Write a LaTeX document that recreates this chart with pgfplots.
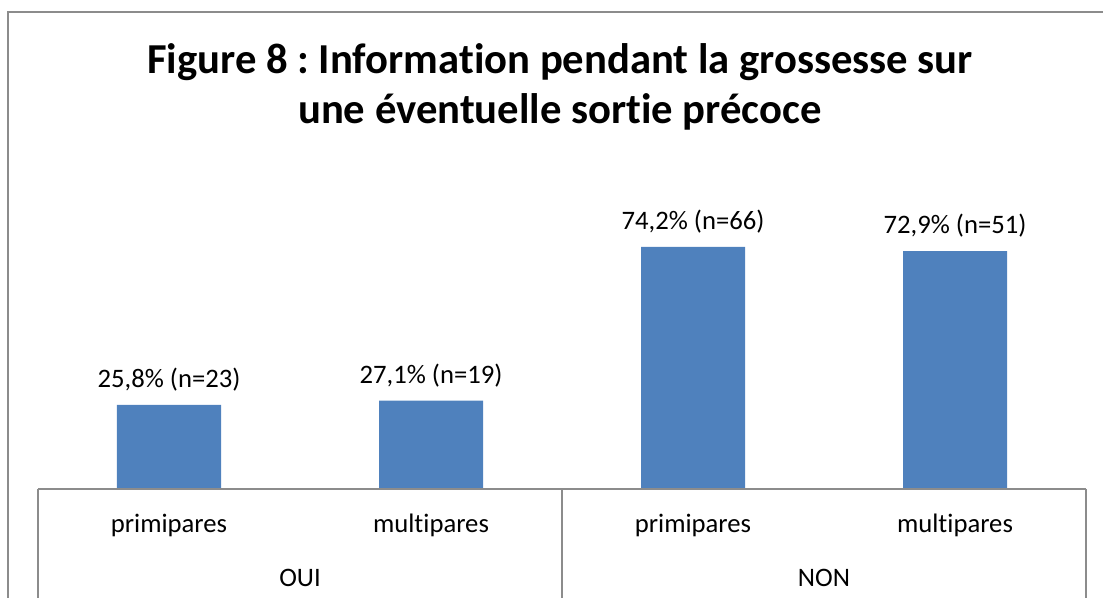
\documentclass[border=0pt]{standalone}
\usepackage{pgfplots}
\pgfplotsset{compat=1.18}
\usepackage{fontspec}
\setmainfont{Carlito}[Ligatures=NoCommon]
\definecolor{barblue}{HTML}{4F81BD}
\definecolor{linegray}{HTML}{8C8C8C}
\frenchspacing

\begin{document}
\begin{tikzpicture}
% page = 1103 x 598 px at 0.75pt/px, axis box 1048 x 261 px
\path[use as bounding box, clip] (-28.5pt,-81.75pt) rectangle (798.75pt,366.75pt);
\draw[linegray, line width=1.5pt] (-22.5pt,-120pt) rectangle (900pt,357.75pt);
\node[font=\bfseries\fontsize{32}{37.5}\selectfont, align=center]
    at (391.5pt,301.5pt) {Figure 8 : Information pendant la grossesse sur\\une éventuelle sortie précoce};

\begin{axis}[
    at={(0,0)}, anchor=south west,
    width=786pt, height=195.75pt, scale only axis,
    xmin=-0.5, xmax=3.5, ymin=0, ymax=80,
    axis line style={draw=none},
    ytick=\empty,
    xtick=data,
    xticklabels={primipares,multipares,primipares,multipares},
    major tick length=0pt,
    xticklabel style={anchor=center, yshift=-27pt, font=\fontsize{20}{24}\selectfont},
    clip=false,
    ybar, bar width=78pt,
    point meta=explicit symbolic,
    nodes near coords,
    every node near coord/.append style={anchor=center, yshift=19pt,
        font=\fontsize{20}{24}\selectfont, black},
]
\addplot[fill=barblue, draw=none] coordinates {
    (0,25.8) [25,8\% (n=23)]
    (1,27.1) [27,1\% (n=19)]
    (2,74.2) [74,2\% (n=66)]
    (3,72.9) [72,9\% (n=51)]
};
% category axis frame
\draw[linegray, line width=1.1pt] (axis cs:-0.5,0) -- (axis cs:3.5,0);
\draw[linegray, line width=1.1pt] (axis cs:-0.5,0) -- ([yshift=-120pt]axis cs:-0.5,0);
\draw[linegray, line width=1.1pt] (axis cs:1.5,0) -- ([yshift=-120pt]axis cs:1.5,0);
\draw[linegray, line width=1.1pt] (axis cs:3.5,0) -- ([yshift=-120pt]axis cs:3.5,0);
\node[font=\fontsize{20}{24}\selectfont] at ([yshift=-67pt]axis cs:0.5,0) {OUI};
\node[font=\fontsize{20}{24}\selectfont] at ([yshift=-67pt]axis cs:2.5,0) {NON};
\end{axis}
\end{tikzpicture}
\end{document}
